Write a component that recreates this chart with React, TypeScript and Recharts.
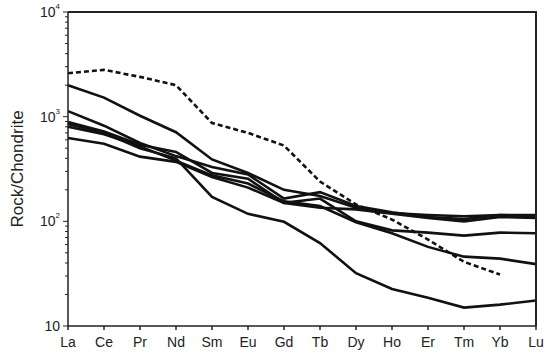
import React from 'react';
import { LineChart, Line, XAxis, YAxis } from 'recharts';

const elements = ['La', 'Ce', 'Pr', 'Nd', 'Sm', 'Eu', 'Gd', 'Tb', 'Dy', 'Ho', 'Er', 'Tm', 'Yb', 'Lu'];

const sampleA = [2000, 1520, 1020, 710, 390, 290, 200, 175, 135, 120, 115, 112, 115, 115];
const sampleB = [1130, 820, 560, 420, 330, 280, 165, 190, 140, 122, 110, 105, 115, 112];
const sampleC = [890, 720, 540, 460, 290, 255, 150, 165, 100, 82, 78, 73, 78, 77];
const sampleD = [800, 680, 520, 380, 275, 230, 155, 140, 98, 77, 57, 46, 44, 39];
const sampleE = [626, 550, 415, 370, 265, 210, 150, 135, 130, 118, 108, 100, 110, 108];
const sampleF = [850, 700, 500, 400, 171, 118, 99, 62, 32, 22.6, 18.6, 15, 16, 17.5];
const dashed = [2600, 2800, 2400, 2000, 870, 700, 530, 240, 145, 104, 67, 41, 31, null];

const yTicks = [10, 20, 30, 40, 50, 60, 70, 80, 90, 100, 200, 300, 400, 500, 600, 700, 800, 900,
  1000, 2000, 3000, 4000, 5000, 6000, 7000, 8000, 9000, 10000];
const decadeLabels: Record<number, string> = { 10: '', 100: '2', 1000: '3', 10000: '4' };

const data = elements.map((el, i) => ({
  el,
  a: sampleA[i],
  b: sampleB[i],
  c: sampleC[i],
  d: sampleD[i],
  e: sampleE[i],
  f: sampleF[i],
  g: dashed[i],
}));

const YTick = (props: any) => {
  const { x, y, payload } = props;
  const v = payload.value;
  const major = v in decadeLabels;
  const sup = decadeLabels[v];
  return (
    <g>
      <line x1={x - (major ? 5 : 3)} x2={x} y1={y} y2={y} stroke="#222" strokeWidth={1} />
      {major && (
        <text x={x - 8} y={y} textAnchor="end" dominantBaseline="central" fontSize={14} fill="#222">
          <tspan>10</tspan>
          {sup && <tspan dy={-6} fontSize={8}>{sup}</tspan>}
        </text>
      )}
    </g>
  );
};

const series = ['a', 'b', 'c', 'd', 'e', 'f'];

export default function App() {
  return (
    <div style={{ position: 'absolute', left: 0, top: 0, width: 550, height: 357, fontFamily: '"Liberation Sans", Arial, sans-serif' }}>
      <LineChart width={550} height={357} data={data} margin={{ top: 12, right: 14, bottom: 1, left: 0 }}>
        <XAxis
          dataKey="el"
          height={30}
          tick={{ fontSize: 14, fill: '#222' }}
          tickSize={4}
          tickMargin={7}
          stroke="#222"
          strokeWidth={1.5}
          interval={0}
        />
        <YAxis
          scale="log"
          domain={[10, 10000]}
          ticks={yTicks}
          width={68}
          tickSize={0}
          tickMargin={0}
          tick={<YTick />}
          interval={0}
          stroke="#222"
          strokeWidth={1.5}
          allowDataOverflow
          label={() => (
            <text x={17} y={169} transform="rotate(-90 17 169)" textAnchor="middle" dominantBaseline="central" fontSize={17} fill="#222">
              Rock/Chondrite
            </text>
          )}
        />
        {series.map((k) => (
          <Line key={k} dataKey={k} stroke="#111" strokeWidth={2.6} dot={false} isAnimationActive={false} />
        ))}
        <Line dataKey="g" stroke="#111" strokeWidth={2.6} strokeDasharray="5 3" dot={false} isAnimationActive={false} connectNulls={false} />
      </LineChart>
      <svg width={550} height={357} style={{ position: 'absolute', left: 0, top: 0, pointerEvents: 'none' }}>
        <path d="M68,12 H536 V326" fill="none" stroke="#222" strokeWidth={2} />
      </svg>
    </div>
  );
}
